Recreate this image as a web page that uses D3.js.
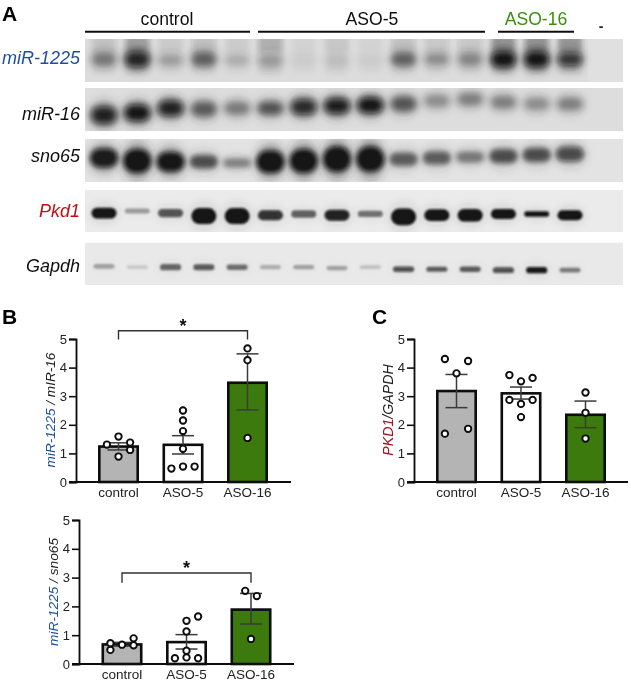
<!DOCTYPE html>
<html><head><meta charset="utf-8">
<script src="https://cdn.jsdelivr.net/npm/d3@7"></script>
<style>html,body{margin:0;padding:0;background:#fff}svg{display:block}text{font-family:"Liberation Sans",Arial,sans-serif}</style>
</head><body><div id="c"></div>
<script>
// ---------- data ----------
const lanes = d3.range(15);
const groups = ["control","ASO-5","ASO-16"];
const blotNames = ["miR-1225","miR-16","sno65","Pkd1","Gapdh"];
const miR1225Int = [.38,.88,.24,.5,.16,.22,.05,.08,.05,.5,.3,.32,1,1,.78];
const miR1225Pos = [47,47,49,47,49,50,50,50,50,47,47,47,47,47,47];
const miR1225Th  = [30,36,26,32,24,30,30,34,30,30,26,30,36,36,30];
const miR1225Smear = [.14,.3,.08,.14,.07,.24,.04,.09,.04,.14,.11,.11,.36,.36,.38];
const miR16Int = [.92,1,.92,.55,.4,.6,.86,.94,1,.58,.32,.38,.38,.32,.38];
const miR16Pos = [63,58,47,49,47,47,44,42,40,37,30,26,33,37,37];
const miR16Th  = [40,38,36,34,30,30,36,36,36,34,30,30,30,30,30];
const sno65Int = [.95,1,.98,.62,.38,1,1,1,1,.55,.55,.42,.62,.62,.68];
const sno65Pos = [44,51,53,53,56,53,51,47,47,47,44,42,40,37,35];
const sno65Th  = [44,56,46,30,22,52,56,60,60,30,30,26,32,32,34];
const pkd1Int = [1,.34,.7,1,1,.85,.6,.92,.52,1,1,1,1,1,1];
const pkd1Pos = [55,50,55,62,62,60,57,60,57,64,60,60,57,57,60];
const pkd1Th  = [26,12,20,38,38,24,18,26,15,40,28,30,24,13,24];
const gapdhInt = [.32,.14,.58,.62,.55,.26,.32,.32,.18,.72,.62,.62,.72,.98,.48];
const gapdhPos = [56,58,58,58,58,58,58,60,58,63,63,63,65,65,65];
const gapdhTh  = [11,9,15,14,13,10,10,10,9,13,12,13,14,15,11];
const b1Bars = [1.24,1.3,3.47];
const b1ErrLo = [1.12,.98,2.52];
const b1ErrHi = [1.37,1.62,4.48];
const b1Control = [[0,1.59],[-1,1.31],[1,1.38],[1,1.12],[0,.89]];
const b1Aso5 = [[0,2.5],[0,2.15],[0,1.78],[0,1.16],[-1,.47],[0,.54],[1,.54]];
const b1Aso16 = [[0,4.67],[0,4.26],[0,1.54]];
const b2Bars = [.68,.76,1.89];
const b2ErrLo = [.62,.52,1.39];
const b2ErrHi = [.75,1.02,2.45];
const b2Control = [[-1,.72],[-1,.49],[0,.67],[1,.89],[1,.65]];
const b2Aso5 = [[1,1.65],[0,1.5],[0,1.13],[0,.46],[-1,.2],[0,.23],[1,.2]];
const b2Aso16 = [[-.5,2.54],[.5,2.36],[0,.87]];
const cBars = [3.18,3.1,2.35];
const cErrLo = [2.6,2.9,1.9];
const cErrHi = [3.76,3.32,2.83];
const cControl = [[-1,4.3],[1,4.23],[0,3.8],[1,1.86],[-1,1.69]];
const cAso5 = [[-1,3.74],[0,3.52],[1,3.64],[-1,2.87],[1,2.87],[0,2.73],[0,2.27]];
const cAso16 = [[0,3.13],[0,2.42],[0,1.52]];
const yTicks = [0,1,2,3,4,5];

// ---------- svg ----------
const W=631,H=682;
const svg=d3.select("#c").append("svg").attr("width",W).attr("height",H);
const defs=svg.append("defs");
[["b1",5],["b2",3.8],["b3",2.6],["b4",1.3],["s",.5]].forEach(([id,s])=>{
  defs.append("filter").attr("id",id).attr("x","-60%").attr("y","-80%").attr("width","220%").attr("height","260%")
   .append("feGaussianBlur").attr("stdDeviation",s);
});
const root=svg.append("g").attr("filter","url(#s)");

// ---------- blots ----------
const x=d3.scalePoint().domain(lanes).range([104,570]);
const dark=d3.scaleLinear().domain([0,1]).range([0,.97]);
const blots=[
 {top:39,h:43,int:miR1225Int,pos:miR1225Pos,th:miR1225Th,bw:25,blur:"b2",halo:.42,smear:miR1225Smear,bg:"#dcdcdc"},
 {top:88,h:43,int:miR16Int,pos:miR16Pos,th:miR16Th,bw:26,blur:"b2",halo:.38,bg:"#dddddd"},
 {top:139,h:43,int:sno65Int,pos:sno65Pos,th:sno65Th,bw:28,blur:"b3",halo:.38,bg:"#e3e3e3"},
 {top:190,h:42,int:pkd1Int,pos:pkd1Pos,th:pkd1Th,bw:25,blur:"b4",halo:.13,bg:"#ebebeb"},
 {top:242.5,h:42.5,int:gapdhInt,pos:gapdhPos,th:gapdhTh,bw:21,blur:"b4",halo:.1,bg:"#e9e9e9"}
];
blots.forEach((b,i)=>{
  const clipId="clip"+i;
  defs.append("clipPath").attr("id",clipId).append("rect").attr("x",85).attr("y",b.top).attr("width",538).attr("height",b.h);
  const g=root.append("g").attr("clip-path",`url(#${clipId})`);
  g.append("rect").attr("x",85).attr("y",b.top).attr("width",538).attr("height",b.h).attr("fill",b.bg);
  const py=d3.scaleLinear().domain([0,100]).range([b.top,b.top+b.h]);
  const ph=d3.scaleLinear().domain([0,100]).range([0,b.h]);
  if(i===0){
    g.append("rect").attr("x",588).attr("y",b.top).attr("width",35).attr("height",b.h).attr("fill","#e0e0e0");
    g.selectAll(".sm").data(lanes).join("rect").attr("class","sm")
      .attr("x",d=>x(d)-12).attr("width",24).attr("y",py(-10)).attr("height",ph(40))
      .attr("fill","#222").attr("fill-opacity",d=>b.smear[d]).attr("filter","url(#b3)");
    g.selectAll(".sm2").data(lanes).join("rect").attr("class","sm2")
      .attr("x",d=>x(d)-11).attr("width",22).attr("y",py(30)).attr("height",ph(50))
      .attr("fill","#333").attr("fill-opacity",d=>b.smear[d]*.35).attr("filter","url(#b3)");
  }
  g.selectAll(".halo").data(lanes).join("ellipse").attr("class","halo")
    .attr("cx",d=>x(d)).attr("rx",b.bw*.55)
    .attr("cy",d=>py(b.pos[d])).attr("ry",d=>ph(b.th[d])*.85)
    .attr("fill","#333")
    .attr("fill-opacity",d=>dark(b.int[d])*b.halo).attr("filter",`url(#b1)`);
  g.selectAll(".core").data(lanes).join("rect").attr("class","core")
    .attr("x",d=>x(d)-b.bw/2).attr("width",b.bw)
    .attr("y",d=>py(b.pos[d])-ph(b.th[d])/2).attr("height",d=>ph(b.th[d]))
    .attr("rx",d=>Math.min(ph(b.th[d])/2,b.bw/2)).attr("fill","#0a0a0a")
    .attr("fill-opacity",d=>dark(b.int[d])).attr("filter",`url(#${b.blur})`);
});

// headers
const head=[{t:groups[0],x:167,a:85,b:250,c:"#111"},{t:groups[1],x:372,a:258,b:485,c:"#111"},{t:groups[2],x:536,a:498,b:574,c:"#3a8f0f"}];
head.forEach(h=>{
  root.append("text").attr("x",h.x).attr("y",25).attr("text-anchor","middle").attr("font-size",17.6).attr("fill",h.c).text(h.t);
  root.append("line").attr("x1",h.a).attr("x2",h.b).attr("y1",31.7).attr("y2",31.7).attr("stroke","#111").attr("stroke-width",2);
});
root.append("text").attr("x",601).attr("y",31).attr("text-anchor","middle").attr("font-size",14).attr("font-weight","bold").attr("fill","#222").text("-");
const labY=[64,120,162,217,272], labC=["#1f4f9c","#111","#111","#c00d12","#111"];
blotNames.forEach((n,i)=>root.append("text").attr("x",80).attr("y",labY[i]).attr("text-anchor","end")
  .attr("font-size",18).attr("font-style","italic").attr("fill",labC[i]).text(n));
[["A",2,21],["B",2,324],["C",372,324]].forEach(([t,a,b])=>root.append("text").attr("x",a).attr("y",b)
  .attr("font-size",21).attr("font-weight","bold").attr("fill","#000").text(t));

// ---------- bars ----------
const fills=["#b4b4b4","#ffffff","#3d7a0c"];
function panel(o){
  const y=d3.scaleLinear().domain([0,5]).range([o.y0,o.y5]);
  const step=o.step, bx=d3.scalePoint().domain(groups).range([o.c0,o.c0+2*step]);
  const g=root.append("g");
  const sw=2.6;
  g.selectAll(".bar").data(groups).join("rect")
    .attr("x",d=>bx(d)-(o.bw-sw)/2).attr("width",o.bw-sw)
    .attr("y",(d,i)=>y(o.bars[i])).attr("height",(d,i)=>o.y0-y(o.bars[i]))
    .attr("fill",(d,i)=>fills[i]).attr("stroke","#0a0a0a").attr("stroke-width",sw);
  groups.forEach((d,i)=>{
    const e=g.append("g").attr("stroke","#3a3a3a").attr("stroke-width",1.5);
    e.append("line").attr("x1",bx(d)).attr("x2",bx(d)).attr("y1",y(o.lo[i])).attr("y2",y(o.hi[i]));
    [o.lo[i],o.hi[i]].forEach(v=>e.append("line").attr("x1",bx(d)-11).attr("x2",bx(d)+11).attr("y1",y(v)).attr("y2",y(v)));
    g.selectAll(null).data(o.pts[i]).join("circle")
      .attr("cx",p=>bx(d)+p[0]*11.6).attr("cy",p=>y(p[1])).attr("r",3.2)
      .attr("fill","#fff").attr("stroke","#0a0a0a").attr("stroke-width",1.9);
  });
  const ax=g.append("g").attr("transform",`translate(${o.ax},0)`)
    .call(d3.axisLeft(y).tickValues(yTicks).tickFormat(d3.format("d")).tickSize(7).tickPadding(2));
  ax.select(".domain").attr("stroke","#111").attr("stroke-width",1.8);
  ax.selectAll(".tick line").attr("stroke","#111").attr("stroke-width",1.6);
  ax.selectAll("text").attr("font-size",13).attr("fill","#222").style("font-family",'"Liberation Sans"');
  g.append("line").attr("x1",o.ax-7).attr("x2",o.axEnd).attr("y1",o.y0).attr("y2",o.y0).attr("stroke","#111").attr("stroke-width",1.8);
  groups.forEach(d=>g.append("text").attr("x",bx(d)).attr("y",o.y0+15).attr("text-anchor","middle").attr("font-size",13.5).attr("fill","#222").text(d));
  const yl=g.append("text").attr("transform",`translate(${o.lx},${o.ly}) rotate(-90)`).attr("text-anchor","middle").attr("font-size",o.ls).attr("font-style","italic");
  o.label.forEach(([t,c])=>yl.append("tspan").attr("fill",c).text(t));
  if(o.br!=null){
    const by=y(o.br), bd=y(o.brEnd);
    g.append("path").attr("d",`M${bx(groups[0])},${bd}V${by}H${bx(groups[2])}V${bd}`).attr("fill","none").attr("stroke","#333").attr("stroke-width",1.4);
    g.append("text").attr("x",bx(groups[1])).attr("y",by+1).attr("text-anchor","middle").attr("font-size",18).attr("font-weight","bold").attr("fill","#111").text("*");
  }
}
panel({y0:482,y5:339,ax:76,axEnd:291,c0:118.5,step:64.5,bw:41,bars:b1Bars,lo:b1ErrLo,hi:b1ErrHi,pts:[b1Control,b1Aso5,b1Aso16],
  lx:54.5,ly:410,ls:13.6,label:[["miR-1225","#1f4f9c"],[" / mIR-16","#222"]],br:5.29,brEnd:4.98});
panel({y0:664,y5:520,ax:79,axEnd:294,c0:122,step:64.5,bw:41,bars:b2Bars,lo:b2ErrLo,hi:b2ErrHi,pts:[b2Control,b2Aso5,b2Aso16],
  lx:58,ly:592,ls:13.7,label:[["miR-1225","#1f4f9c"],[" / sno65","#222"]],br:3.16,brEnd:2.82});
panel({y0:482,y5:339,ax:414,axEnd:628,c0:456.5,step:64.5,bw:41,bars:cBars,lo:cErrLo,hi:cErrHi,pts:[cControl,cAso5,cAso16],
  lx:392.5,ly:410,ls:14.2,label:[["PKD1","#a5121c"],["/GAPDH","#222"]]});
</script></body></html>
